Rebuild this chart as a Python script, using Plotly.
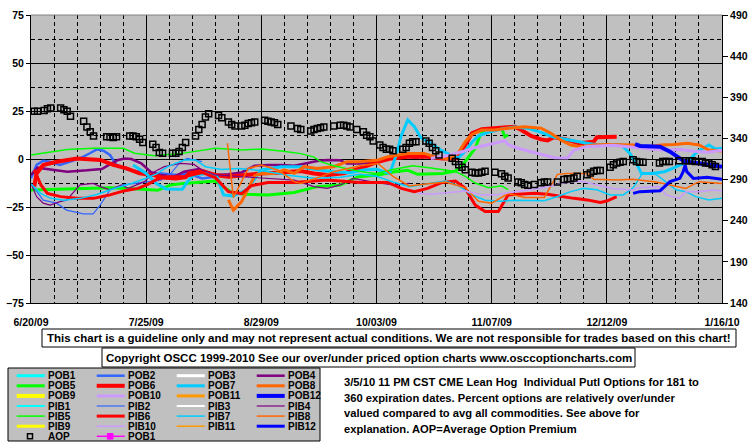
import plotly.graph_objects as go

# ---------------- axis tick definitions ----------------
X_TICK_DAYS = [0, 35, 70, 105, 140, 175, 210]          # days after 6/20/09
X_TICK_LABELS = ["6/20/09", "7/25/09", "8/29/09", "10/03/09", "11/07/09", "12/12/09", "1/16/10"]
Y_LEFT_TICKS = [-75, -50, -25, 0, 25, 50, 75]
Y_RIGHT_TICKS = [140, 190, 240, 290, 340, 390, 440, 490]

# ---------------- series data (x = days after 6/20/09) ----------------
AOP_days = [1, 2, 4, 5, 6, 9, 10, 11, 12, 16, 17, 18, 19, 23, 24, 25, 26, 30, 31, 32, 33, 34, 37, 38, 39, 40, 43, 44, 45, 46,
            47, 50, 51, 52, 53, 54, 57, 58, 60, 61, 62, 64, 65, 66, 67, 68, 71, 72, 73, 74, 75, 79, 81, 82, 85, 86, 87, 88, 89,
            92, 94, 95, 96, 97, 99, 101, 102, 103, 104, 106, 107, 108, 109, 110, 113, 114, 115, 116, 117, 120, 121, 122, 123,
            124, 128, 129, 130, 131, 132, 134, 135, 136, 137, 138, 141, 143, 144, 145, 148, 149, 150, 151, 153, 155, 156, 157,
            160, 162, 163, 164, 165, 166, 169, 170, 171, 172, 173, 176, 177, 178, 179, 180, 183, 184, 185, 186, 191, 192, 193,
            194, 197, 199, 200, 201, 202, 204, 205, 206, 207, 208]
AOP_vals = [373, 373, 374, 376, 377, 377, 375, 373, 367, 361, 354, 348, 343, 342, 342, 341, 342, 343, 343, 342, 339, 335, 333,
            329, 323, 322, 322, 322, 324, 329, 335, 343, 351, 357, 366, 370, 368, 365, 360, 357, 355, 355, 356, 358, 359, 360,
            362, 361, 360, 359, 357, 355, 352, 351, 349, 351, 352, 353, 354, 355, 356, 356, 355, 354, 351, 348, 344, 342, 337,
            332, 329, 327, 327, 325, 327, 329, 334, 336, 336, 337, 334, 329, 325, 320, 316, 312, 308, 305, 302, 299, 298, 298,
            299, 300, 299, 297, 294, 292, 287, 286, 284, 283, 284, 286, 287, 287, 287, 290, 291, 291, 292, 294, 296, 298, 300,
            301, 301, 305, 308, 310, 311, 312, 314, 312, 311, 311, 310, 312, 312, 312, 313, 313, 313, 313, 312, 312, 310, 310,
            308, 306]

POB2_days = [0, 1.7, 3.7, 5.8, 8.8, 10.8, 14.9, 17.9, 20, 22, 24, 26, 29, 33, 35, 39.5, 44.5, 47.5, 52, 56]
POB2_vals = [-10, -3.1, -0.9, -1.4, -3.1, -1.9, 0.3, 3, 5, 4.3, 2.1, -3.1, -5.4, -6.6, -7.5, -7.5, -8.3, -7.5, -10.1, -9.2]

POB4_days = [0, 2, 7, 11, 17, 21.5, 24, 26.5, 28.5, 30.5, 33.5, 36.5, 39.5, 43.5, 46.5, 51, 56, 60, 64, 68, 72, 76, 80,
             83, 87, 90, 94, 96, 100, 105.5, 110, 115, 118]
POB4_vals = [-8.3, -4.5, -5.7, -6.6, -5.9, -5.2, -2.8, -0.5, 0.3, 0, -2.3, -6.9, -8.3, -9.2, -6.6, -5.2, -8.3, -8.0, -7.0,
             -3.5, -3.1, -3.1, -3.5, -2.3, -1.0, -0.5, -0.7, -2.3, -2.3, -1.4, 1.0, 1.0, 0.5]

POB5_days = [0, 5, 14, 24, 32.5, 38.5, 42.5, 46.5, 56, 59, 61, 65, 72, 80, 87, 94, 99.5, 105.5, 110.5, 114.5, 117.5, 125,
             129, 131, 133, 135, 136.5, 138, 143, 144, 145]
POB5_vals = [-16.1, -15.8, -15.3, -15, -15.6, -16.3, -13.5, -12.7, -11.5, -15.3, -17.5, -18.4, -18.7, -17.4, -14.4, -13.5,
             -9.2, -8.3, -6.6, -5.9, -8, -7.5, -6.3, -3.5, 1.2, 5.6, 12.5, 15.6, 16, 11.6, 12.5]

POB6_days = [1, 1.7, 3.7, 7.8, 14, 21, 25, 29, 33, 37, 40, 44, 47, 48, 52, 56, 60, 65, 70, 76, 82, 86, 90, 95, 100, 105.5,
             109.5, 114.5, 120.5, 125, 129, 132, 134, 137, 141, 145, 147, 149, 152, 155, 157, 159, 162.5, 166.5, 171, 172, 178]
POB6_vals = [-14.4, -7.5, -3.1, -1.4, 0.3, -0.5, -3.1, -4.9, -7.5, -8.3, -9.7, -10.1, -9.4, -7.5, -6.3, -8.3, -9.2, -8.3,
             -7.5, -7, -6.3, -7.5, -8.3, -7.5, -4.9, -1.4, 0.3, 1.2, 1.2, 0.3, 0.3, 7.3, 13.4, 15.5, 16, 16.3, 16.8, 15.1, 12,
             10.2, 9.7, 11.3, 10.2, 8.2, 9, 11.3, 11.6]

POB7_days = [31, 35, 38, 41, 46, 47.5, 49.5, 53.5, 56.5, 58.5, 61.5, 65.5, 68.5, 70, 76, 82, 86, 92, 97, 101, 105, 107, 109,
             111, 112.5, 114.5, 116.5, 118.5, 121.5, 125, 128, 130, 132, 134, 136, 139, 143, 147, 151, 155, 159, 162, 166,
             169, 172.5, 175.5, 179.5, 182, 184.5, 185.5, 188.5, 192.5, 195.5, 199.5, 202.5, 204.5, 206, 208, 210]
POB7_vals = [-3.1, -7.5, -12.7, -15.6, -15.8, -11.8, -8.3, -7.5, -9.2, -18.7, -19.3, -16.1, -9.2, -5.7, -4, -4, -5.4, -6.6,
             -7.1, -5.7, -5.4, -6.6, -7.5, 2, 12, 20.3, 16.8, 11.1, 8.2, 4.2, 1.6, 0.7, 4.2, 8.7, 12.1, 13.9, 15.6, 16.7, 16,
             13.9, 11.3, 10.4, 9, 8.2, 7.3, 7.6, 7.3, 2.9, -4, -7.5, -7.5, -6.6, -4.5, -1.4, 3.8, 5.9, 7.3, 5.2, 5.6]

POB8_days = [60, 61.5, 64, 66, 68, 70, 74, 77, 80, 83, 87, 92, 96, 100, 105.5, 108.5, 114.5, 119.5, 122.5, 127, 130, 132,
             134, 137, 141, 145, 150, 155, 158, 161, 164, 167, 171, 175, 179.5, 183.5, 187.5, 191.5, 195.5, 199.5, 203, 206,
             210]
POB8_vals = [-21.3, -26.6, -22.2, -15.3, -8.7, -7.5, -7.6, -5.7, -7.5, -4, -4.9, -4, -1.4, -1.4, -0.5, 1.2, 2.9, 2.9, 1.2,
             0, 3.5, 9, 12.8, 15.1, 15.1, 16, 16.8, 16, 13.4, 9.9, 7.3, 6.4, 7.3, 7.6, 7.3, 7.3, 6.4, 7.3, 7.6, 8.2, 7.3, 4.7,
             4.2]

POB10_days = [121.5, 127, 131.5, 135, 139, 144, 145, 148, 152, 156, 159, 163, 165, 169, 173, 177, 181.5, 185.5, 189.5, 193.5,
              197.5, 201.5, 205.5, 210]
POB10_vals = [0.3, 2, 4, 6, 7.5, 9.5, 7.5, 5.6, 3.8, 2.1, 0.7, 0.5, 4.7, 6.5, 7, 7.2, 6.4, 5.6, 5, 4.7, 5, 4, 3.5, 4.5]

POB12_days = [183.6, 185.1, 191.2, 194.2, 197.2, 198.8, 203.3, 207.4, 210]
POB12_vals = [7.8, 6.8, 6.4, 3.8, 0.3, -1.4, -2.3, -3.1, -4]

PIB2_days = [0.7, 3.7, 7.8, 10.8, 15.9, 18.9, 21, 24, 28, 32, 39.5, 42.5, 45.5, 47.5, 52]
PIB2_vals = [-14.4, -21.4, -23, -26.6, -28.6, -28.6, -24, -16.1, -13.5, -12.7, -11, -7.5, -1.4, 0.3, -1.4]

PIB4_days = [0, 1.7, 3.7, 5.8, 8.8, 10.8, 14.9, 18.9, 21, 24, 27.5, 29.5, 34.5, 37.5, 40.5, 45.5, 49.5, 52, 56, 62, 70, 80,
             86, 90, 94, 98, 104, 110, 115]
PIB4_vals = [-12.7, -19.6, -23, -24, -22.2, -21.4, -13.5, -12.7, -14.4, -16.1, -13.5, -15.3, -11.8, -6.6, -4, -2.3, -2.8,
             -5.7, -8.3, -9, -10, -11, -14.4, -15.3, -13.5, -10.1, -12, -13.5, -12.7]

PIB5_days = [0, 5, 11, 19, 28, 31.5, 37.5, 45.5, 52, 56, 64, 70, 76, 82, 86, 88, 92, 97, 102, 105, 110, 116, 121, 129, 132,
             135, 139, 143, 145]
PIB5_vals = [2.1, 3.5, 5.0, 5.6, 5.6, 3.0, 1.7, 2.8, 4.7, 5.6, 4.7, 5.2, 4.2, 2.8, 1.0, -1.4, -3.5, -5.5, -7, -7.5, -5.5,
             -3.5, -4.5, -6.5, -9, -12.5, -15, -14, -16]

PIB6_days = [1, 3, 5, 9, 14, 19, 24, 28.5, 32.5, 35.5, 38.5, 41.5, 46.5, 52, 56, 60, 64, 67, 72, 80, 90, 100, 105.5, 108.5,
             112.5, 116.5, 120.5, 125, 129, 132, 135, 138, 142, 145, 148, 153, 157, 161, 165, 169, 173, 175, 178]
PIB6_vals = [-5.7, -13.5, -17.9, -19.6, -20.5, -20.5, -18.7, -16.5, -15.3, -13.2, -10.4, -9.2, -9.2, -7, -9.7, -17, -18,
             -13.9, -12.2, -12.2, -11, -12.2, -12.2, -12.2, -15.3, -17, -15.3, -12.2, -11.5, -15.3, -24, -27.4, -27.4, -18.7,
             -18.4, -17.9, -18.4, -19.6, -20.5, -21.3, -22.6, -21.9, -19.6]

PIB7_days = [0, 3, 6, 10, 15, 20, 25, 30, 35, 38.5, 41.5, 46.5, 50, 53, 58, 63, 70, 78, 86, 94, 100, 105, 110, 115, 120, 126,
             130, 134, 138, 143, 147, 152, 156, 160, 164, 168, 172, 176, 180, 183, 186, 190, 194, 196, 199, 202, 206, 210]
PIB7_vals = [-13, -18, -20.5, -21.5, -20.5, -18.5, -15.5, -13, -10, -7.5, -4, -0.5, -0.5, -4, -5.5, -5, -6, -8.5, -10, -9.5,
             -8, -9, -12, -14.5, -13, -11.5, -14, -18.7, -21.5, -22, -21.5, -21.7, -21.7, -19.5, -17, -15.3, -16, -18.7,
             -18.7, -15, -7, -8, -13.5, -16, -17, -19.6, -21.3, -20.5]

PIB8_days = [59.7, 60.5, 61.5, 64, 66, 70, 75, 80, 82, 88, 92, 100, 105.5, 110, 115, 120, 126, 132, 136, 140, 145, 150, 156,
             160, 163, 169, 171, 178, 183, 190, 196, 199, 203, 210]
PIB8_vals = [8.2, -5, -20, -11.8, -4.9, -3.1, -5.7, -11.8, -12.7, -9.2, -6.6, -3.5, -2.3, -9, -14, -13, -12, -15, -22, -23,
             -18, -20, -20, -8, -7.5, -7.5, -10.6, -10.9, -10.6, -12, -14, -15.3, -11.8, -12.7]

PIB10_days = [117.5, 121.5, 127, 132, 137, 142, 147, 152, 157, 162, 167, 172, 177, 183, 185, 191, 193, 197, 199, 203, 207, 210]
PIB10_vals = [-17.9, -18.4, -17.4, -16.7, -18.7, -18.5, -17, -16, -14.5, -12.5, -11.5, -13.5, -15.5, -16.1, -14.8, -14.4,
              -18.7, -20.5, -17, -17, -16.1, -16.5]

PIB12_days = [183, 185, 191.2, 194.2, 197.2, 198.2, 198.8, 199.3, 201.3, 205.4, 210]
PIB12_vals = [-17.9, -17, -16.5, -11.8, -10.1, -6.6, -3.1, -6.6, -10.1, -9.5, -10.6]

# ---------------- legend / style table ----------------
LEGEND_NAMES = ["POB1", "POB2", "POB3", "POB4", "POB5", "POB6", "POB7", "POB8", "POB9", "POB10", "POB11", "POB12",
                "PIB1", "PIB2", "PIB3", "PIB4", "PIB5", "PIB6", "PIB7", "PIB8", "PIB9", "PIB10", "PIB11", "PIB12"]
STYLE = {
    "POB1": ("#00FFFF", 3), "POB2": ("#3366FF", 2.5), "POB3": ("#FFFFFF", 3), "POB4": ("#800080", 2.5),
    "POB5": ("#00FF00", 3), "POB6": ("#FF0000", 4), "POB7": ("#00CCFF", 3), "POB8": ("#FF6600", 3),
    "POB9": ("#FFFF00", 4), "POB10": ("#CC99FF", 3), "POB11": ("#FF9900", 3), "POB12": ("#0000FF", 4),
    "PIB1": ("#00FFFF", 2), "PIB2": ("#3366FF", 1.2), "PIB3": ("#FFFFFF", 2), "PIB4": ("#800080", 1.2),
    "PIB5": ("#00FF00", 1.5), "PIB6": ("#FF0000", 3), "PIB7": ("#00CCFF", 1.5), "PIB8": ("#FF6600", 1.5),
    "PIB9": ("#FFFF00", 3), "PIB10": ("#CC99FF", 1.5), "PIB11": ("#FF9900", 1.5), "PIB12": ("#0000FF", 3),
}

SERIES = [
    ("POB2", POB2_days, POB2_vals), ("POB4", POB4_days, POB4_vals), ("POB5", POB5_days, POB5_vals),
    ("POB6", POB6_days, POB6_vals), ("POB7", POB7_days, POB7_vals), ("POB8", POB8_days, POB8_vals),
    ("POB10", POB10_days, POB10_vals), ("POB12", POB12_days, POB12_vals),
    ("PIB2", PIB2_days, PIB2_vals), ("PIB4", PIB4_days, PIB4_vals), ("PIB5", PIB5_days, PIB5_vals),
    ("PIB6", PIB6_days, PIB6_vals), ("PIB7", PIB7_days, PIB7_vals), ("PIB8", PIB8_days, PIB8_vals),
    ("PIB10", PIB10_days, PIB10_vals), ("PIB12", PIB12_days, PIB12_vals),
]

DISCLAIMER = "This chart is a guideline only and may not represent actual conditions. We are not responsible for trades based on this chart!"
COPYRIGHT = "Copyright OSCC 1999-2010 See our over/under priced option charts www.osccoptioncharts.com"
DESCRIPTION = [
    "3/5/10 11 PM CST CME Lean Hog  Individual Putl Options for 181 to",
    "360 expiration dates. Percent options are relatively over/under",
    "valued compared to avg all commodities. See above for",
    "explanation. AOP=Average Option Premium",
]

FONT = "Arial, Liberation Sans, sans-serif"
W, H = 755, 446
L, R, T, B = 31, 722, 15, 303  # plot area in pixels


def px(x):
    return (x - L) / (R - L)


def py(y):
    return (B - y) / (B - T)


fig = go.Figure()

for name, d, v in SERIES:
    c, w = STYLE[name]
    fig.add_trace(go.Scatter(x=d, y=v, mode="lines", name=name, showlegend=False,
                             line=dict(color=c, width=w)))

fig.add_trace(go.Scatter(x=AOP_days, y=AOP_vals, mode="markers", name="AOP", yaxis="y2", showlegend=False,
                         marker=dict(symbol="square-open", size=6, color="black", line=dict(width=1.5, color="black"))))

tickfont = dict(family=FONT, size=10.5, color="black", weight="bold")

fig.update_layout(
    width=W, height=H,
    margin=dict(l=L, r=W - R, t=T, b=H - B, autoexpand=False),
    paper_bgcolor="white", plot_bgcolor="#C0C0C0",
    showlegend=False,
    xaxis=dict(range=[0, 210], tickmode="array", tickvals=X_TICK_DAYS, ticktext=X_TICK_LABELS, automargin=False,
               showgrid=True, gridcolor="black", gridwidth=1, zeroline=False,
               showline=True, linecolor="black", linewidth=1,
               ticks="outside", ticklen=9, tickcolor="rgba(0,0,0,0)", tickfont=tickfont,
               minor=dict(tick0=0, dtick=7, showgrid=True, gridcolor="black", gridwidth=1, griddash="4px,3px")),
    yaxis=dict(range=[-75, 75], tickmode="array", tickvals=Y_LEFT_TICKS, automargin=False,
               showgrid=True, gridcolor="black", gridwidth=1, zeroline=False,
               showline=True, linecolor="black", linewidth=1,
               ticks="outside", ticklen=4, tickcolor="black", tickfont=tickfont,
               minor=dict(tick0=0, dtick=12.5, showgrid=True, gridcolor="black", gridwidth=1, griddash="4px,3px")),
    yaxis2=dict(range=[140, 490], tickmode="array", tickvals=Y_RIGHT_TICKS, overlaying="y", side="right",
                automargin=False,
                showgrid=False, zeroline=False, showline=True, linecolor="black", linewidth=1,
                ticks="outside", ticklen=5, tickcolor="black", tickfont=tickfont),
)

shapes = []
annotations = []
# gray top border of plot
shapes.append(dict(type="line", xref="paper", yref="paper", x0=0, x1=1, y0=1, y1=1,
                   line=dict(color="#808080", width=1)))

# disclaimer box
shapes.append(dict(type="rect", xref="paper", yref="paper", x0=px(42), x1=px(736), y0=py(329), y1=py(347),
                   line=dict(color="black", width=1), fillcolor="white"))
annotations.append(dict(xref="paper", yref="paper", x=px(389), y=py(338), text="<b>" + DISCLAIMER + "</b>",
                        showarrow=False, xanchor="center", yanchor="middle",
                        font=dict(family=FONT, size=11.5, color="black")))
# copyright box
shapes.append(dict(type="rect", xref="paper", yref="paper", x0=px(102), x1=px(635), y0=py(348), y1=py(367),
                   line=dict(color="black", width=1), fillcolor="white"))
annotations.append(dict(xref="paper", yref="paper", x=px(368.5), y=py(357.5), text="<b>" + COPYRIGHT + "</b>",
                        showarrow=False, xanchor="center", yanchor="middle",
                        font=dict(family=FONT, size=11.5, color="black")))

# legend box
shapes.append(dict(type="rect", xref="paper", yref="paper", x0=px(8), x1=px(320), y0=py(368), y1=py(441),
                   line=dict(color="black", width=1), fillcolor="#C0C0C0"))
col_x = [16.7, 96.7, 176.7, 256.7]
row_y0, row_dy = 375.7, 10.1
for i, name in enumerate(LEGEND_NAMES):
    r, c = divmod(i, 4)
    x0 = col_x[c]
    y = row_y0 + r * row_dy
    color, width = STYLE[name]
    shapes.append(dict(type="line", xref="paper", yref="paper", x0=px(x0), x1=px(x0 + 28), y0=py(y), y1=py(y),
                       line=dict(color=color, width=width)))
    annotations.append(dict(xref="paper", yref="paper", x=px(x0 + 29.5), y=py(y), text="<b>" + name + "</b>",
                            showarrow=False, xanchor="left", yanchor="middle",
                            font=dict(family=FONT, size=10, color="black")))
# row 7: AOP marker and POB1 magenta marker line
y7 = row_y0 + 6 * row_dy
shapes.append(dict(type="rect", xref="paper", yref="paper", x0=px(27.5), x1=px(32.5), y0=py(y7 + 2.5), y1=py(y7 - 2.5),
                   line=dict(color="black", width=1.5), fillcolor="rgba(0,0,0,0)"))
annotations.append(dict(xref="paper", yref="paper", x=px(46.2), y=py(y7), text="<b>AOP</b>",
                        showarrow=False, xanchor="left", yanchor="middle",
                        font=dict(family=FONT, size=10, color="black")))
shapes.append(dict(type="line", xref="paper", yref="paper", x0=px(96.7), x1=px(124.7), y0=py(y7), y1=py(y7),
                   line=dict(color="#FF00FF", width=1.5)))
shapes.append(dict(type="rect", xref="paper", yref="paper", x0=px(107.3), x1=px(113), y0=py(y7 + 2.8), y1=py(y7 - 2.8),
                   line=dict(color="#FF00FF", width=1), fillcolor="#FF00FF"))
annotations.append(dict(xref="paper", yref="paper", x=px(126.2), y=py(y7), text="<b>POB1</b>",
                        showarrow=False, xanchor="left", yanchor="middle",
                        font=dict(family=FONT, size=10, color="black")))

# description text
for i, line in enumerate(DESCRIPTION):
    annotations.append(dict(xref="paper", yref="paper", x=px(341.5), y=py([382, 397.5, 413, 428.5][i]),
                            text="<b>" + line + "</b>", showarrow=False, xanchor="left", yanchor="middle",
                            font=dict(family=FONT, size=11.2, color="black")))

fig.update_layout(shapes=shapes, annotations=annotations)
# remove the default page margin so the figure sits at the window's top-left corner
fig.write_html("out.html", config={"displayModeBar": False},
               post_script="document.body.style.margin='0';document.body.style.overflow='hidden';")
